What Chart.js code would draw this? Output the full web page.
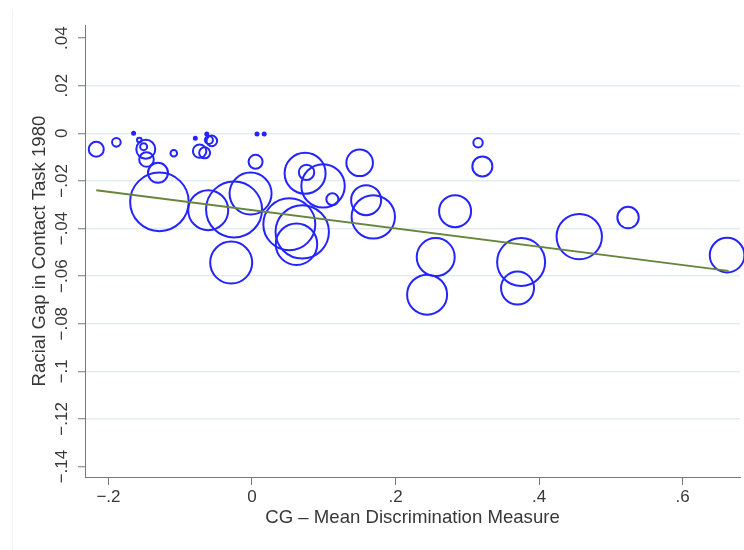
<!DOCTYPE html>
<html>
<head>
<meta charset="utf-8">
<script src="https://cdn.jsdelivr.net/npm/chart.js@4"></script>
<style>
  body { margin: 0; background: #fff; }
  canvas { display: block; }
</style>
</head>
<body>
<canvas id="gapChart" width="744" height="550"></canvas>
<script>
// CG mean discrimination measure (x) vs racial gap in contact task 1980 (y), bubble = weight
const discrimination = [-0.217, -0.189, -0.165, -0.157, -0.151, -0.148, -0.147, -0.131, -0.129, -0.109,
  -0.079, -0.063, -0.060, -0.056, -0.073, -0.066, -0.061, -0.025, -0.029, -0.002,
  0.005, 0.007, 0.017, 0.074, 0.076, 0.099, 0.112, 0.150, 0.159, 0.169,
  0.052, 0.070, 0.062, 0.315, 0.321, 0.283, 0.256, 0.244, 0.375, 0.370,
  0.456, 0.524, 0.662];
const racialGap = [-0.0067, -0.0038, 0.0000, -0.0028, -0.0056, -0.0067, -0.0110, -0.0166, -0.0288, -0.0084,
  -0.0021, -0.0003, -0.0028, -0.0032, -0.0075, -0.0082, -0.0323, -0.0320, -0.0543, -0.0253,
  -0.0120, -0.0003, -0.0003, -0.0168, -0.0164, -0.0221, -0.0277, -0.0124, -0.0281, -0.0351,
  -0.0382, -0.0414, -0.0466, -0.0040, -0.0139, -0.0327, -0.0520, -0.0678, -0.0541, -0.0650,
  -0.0434, -0.0354, -0.0512];
const weight = [7.5, 4.3, 1.5, 2.3, 3.5, 9.5, 7.3, 10, 29.3, 3.3,
  1.5, 1.5, 4, 5.3, 6.7, 5.5, 20, 28, 21, 21,
  7, 1.5, 1.5, 20.5, 7.7, 21.7, 6, 13.3, 15, 21.7,
  26, 26.7, 20.7, 4.7, 10, 16, 19, 20, 24, 16.5,
  22.7, 10.7, 17.3];

// fitted line end points
const fitX = [-0.217, 0.664];
const fitY = [-0.0239, -0.0578];

const xTicks = [-0.2, 0, 0.2, 0.4, 0.6];
const yTicks = [0.04, 0.02, 0, -0.02, -0.04, -0.06, -0.08, -0.1, -0.12, -0.14];

const BLUE = '#2424ff';
const FONT = '"Liberation Sans", Arial, sans-serif';
const TEXT = '#383838';

function stataLabel(v) {
  if (Math.abs(v) < 1e-9) return '0';
  let s = Math.abs(v).toString().replace(/^0/, '');
  return (v < 0 ? '\u2212' : '') + s;
}

const bubbles = discrimination.map((x, i) => ({ x: x, y: racialGap[i], r: weight[i] }));
const fitLine = fitX.map((x, i) => ({ x: x, y: fitY[i] }));

// stata style axis text
const axisText = {
  id: 'axisText',
  afterDraw(chart) {
    const ctx = chart.ctx;
    const xs = chart.scales.x, ys = chart.scales.y;
    const area = chart.chartArea;
    ctx.save();
    ctx.fillStyle = TEXT;
    ctx.font = '17px ' + FONT;
    ctx.textAlign = 'center';
    ctx.textBaseline = 'alphabetic';
    xTicks.forEach(v => {
      ctx.fillText(stataLabel(v), xs.getPixelForValue(v), 502);
    });
    yTicks.forEach(v => {
      ctx.save();
      ctx.translate(67, ys.getPixelForValue(v));
      ctx.rotate(-Math.PI / 2);
      ctx.fillText(stataLabel(v), 0, 0);
      ctx.restore();
    });
    ctx.font = '18.6px ' + FONT;
    ctx.fillText('CG \u2013 Mean Discrimination Measure', (area.left + area.right) / 2, 523);
    ctx.translate(45, (area.top + area.bottom) / 2);
    ctx.rotate(-Math.PI / 2);
    ctx.fillText('Racial Gap in Contact Task 1980', 0, 0);
    ctx.restore();

    // faint outer graph region edge
    ctx.save();
    ctx.strokeStyle = '#eef2f2';
    ctx.lineWidth = 1;
    ctx.beginPath();
    ctx.moveTo(12.5, 10);
    ctx.lineTo(12.5, 550);
    ctx.stroke();
    ctx.restore();
  }
};

new Chart(document.getElementById('gapChart'), {
  data: {
    datasets: [
      {
        type: 'line',
        data: fitLine,
        borderColor: '#66853d',
        borderWidth: 2,
        pointRadius: 0,
        order: 0
      },
      {
        type: 'bubble',
        data: bubbles,
        borderColor: BLUE,
        borderWidth: 2,
        backgroundColor: c => (c.raw && c.raw.r < 2 ? BLUE : 'rgba(0,0,0,0)'),
        clip: false,
        order: 1
      }
    ]
  },
  options: {
    responsive: false,
    animation: false,
    events: [],
    layout: { autoPadding: false, padding: { top: 25, right: 4, left: 0, bottom: 0 } },
    plugins: { legend: { display: false }, tooltip: { enabled: false } },
    scales: {
      x: {
        type: 'linear',
        min: -0.2327,
        max: 0.680,
        afterBuildTicks: s => { s.ticks = xTicks.map(v => ({ value: v })); },
        afterFit: s => { s.height = 73; },
        ticks: { display: false },
        grid: { color: 'rgba(0,0,0,0)', tickColor: '#777', tickLength: 8, tickWidth: 1 },
        border: { display: true, color: '#777', width: 1 }
      },
      y: {
        type: 'linear',
        min: -0.1444,
        max: 0.0455,
        afterBuildTicks: s => { s.ticks = yTicks.map(v => ({ value: v })); },
        afterFit: s => { s.width = 85; },
        ticks: { display: false },
        grid: {
          color: c => (c.tick && (c.tick.value === 0.04 || c.tick.value === -0.14) ? 'rgba(0,0,0,0)' : '#e3edf0'),
          lineWidth: 1.5,
          tickColor: '#777',
          tickLength: 7,
          tickWidth: 1
        },
        border: { display: true, color: '#777', width: 1 }
      }
    }
  },
  plugins: [axisText]
});
</script>
</body>
</html>
